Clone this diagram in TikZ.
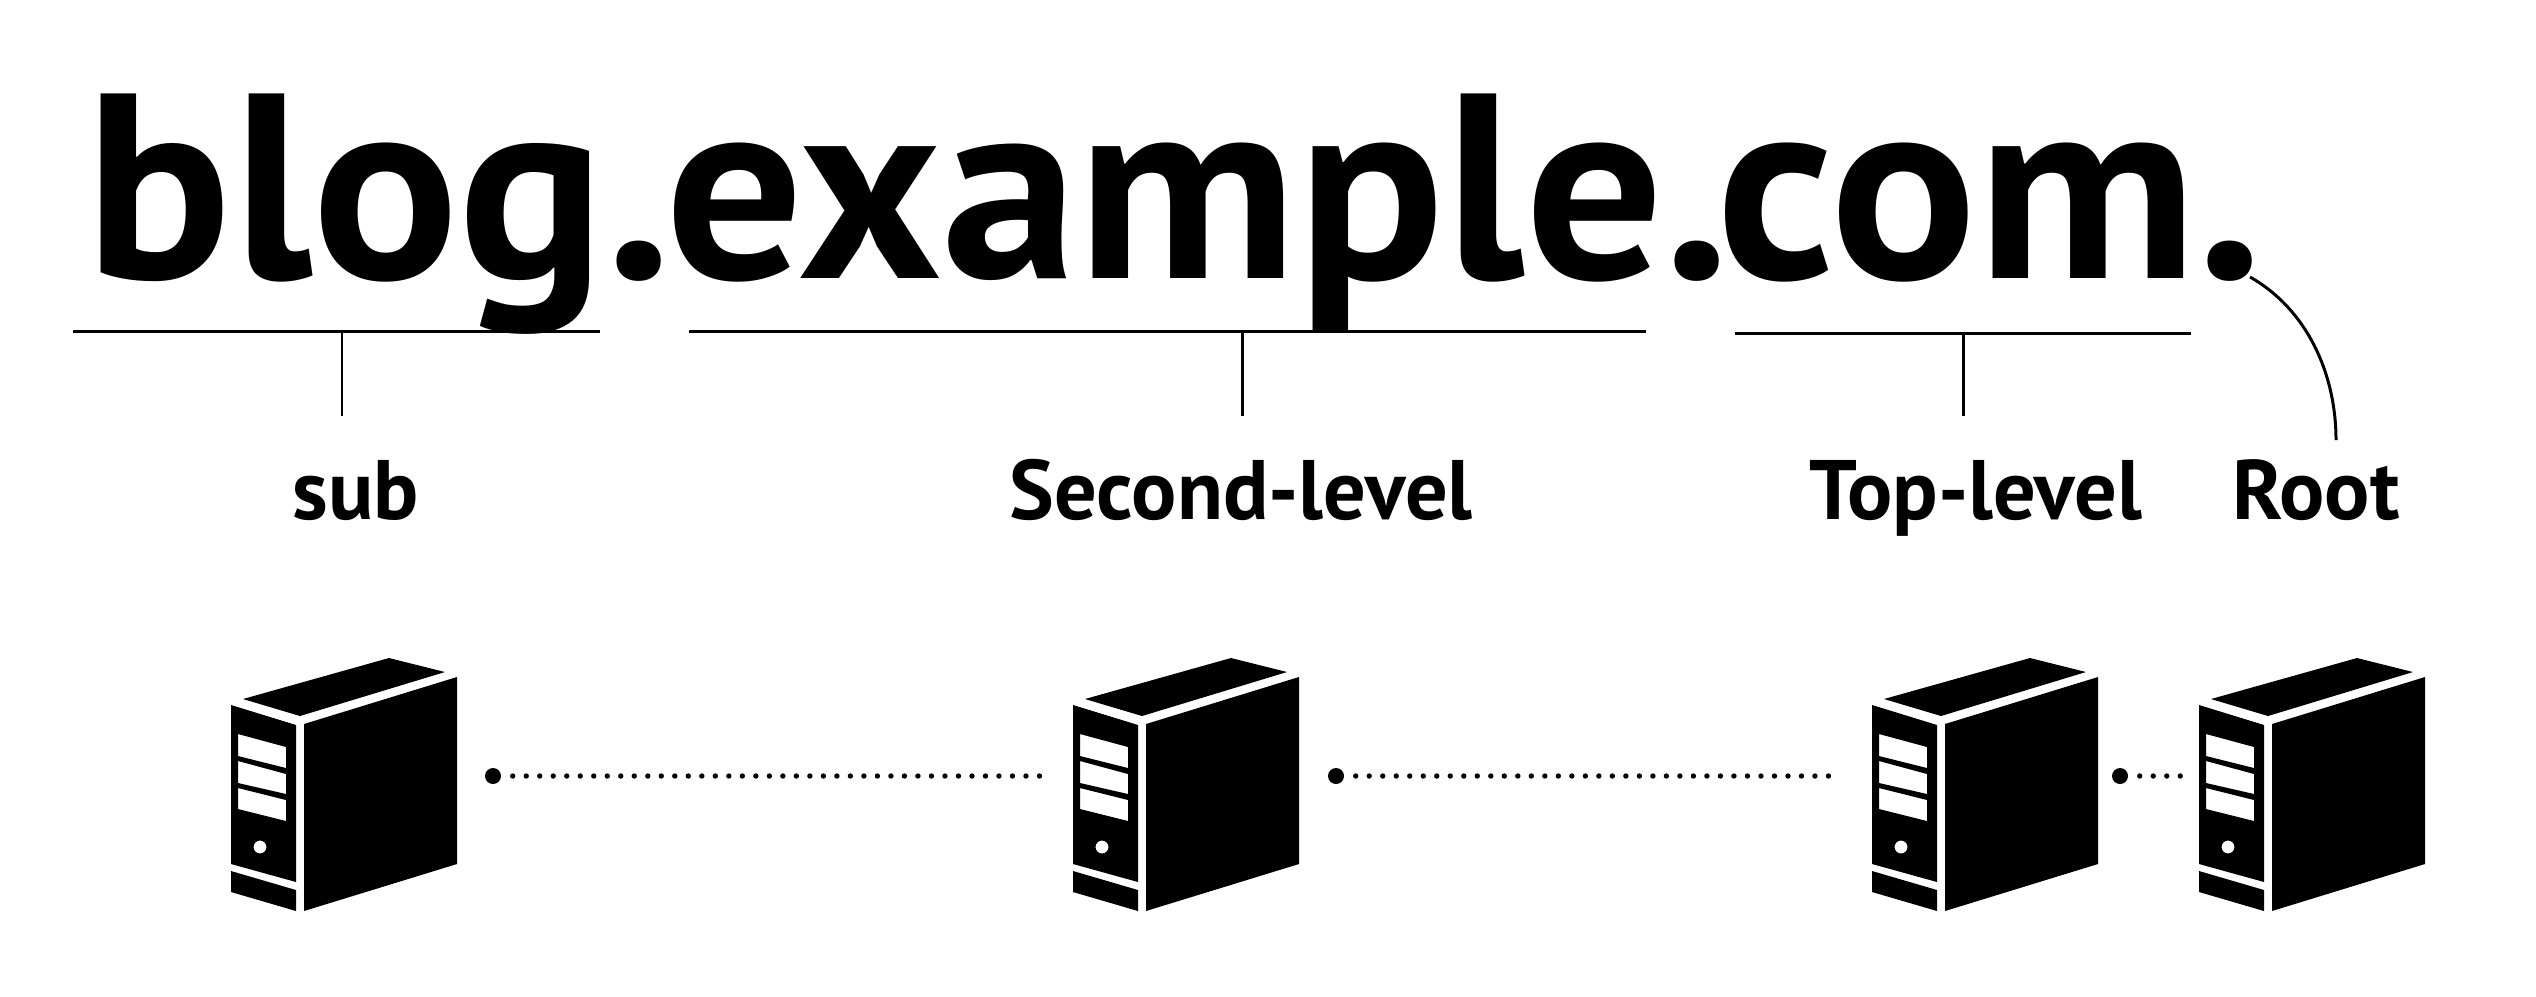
\documentclass[tikz,border=0pt]{standalone}
\usepackage{fontspec}
\setmainfont{PT Sans}
\usetikzlibrary{positioning}
\begin{document}
\begin{tikzpicture}[
      x=0.01cm, y=-0.01cm,
      word/.style={inner sep=0pt, anchor=base west, xscale=1.035, transform shape, font=\fontsize{75}{75}\selectfont\bfseries},
      level/.style={inner sep=0pt, anchor=base, font=\fontsize{24}{24}\selectfont\bfseries},
      rule/.style={line width=0.85pt, color=black},
      bigdot/.style={circle, fill=black, inner sep=0pt, minimum size=0.16cm},
      dots/.style={line width=0.054cm, line cap=round, dash pattern=on 0pt off 0.135cm},
      server/.pic={
        \fill (43,68) -- (189,27) -- (245,41) -- (100,85) -- cycle;
        \fill (104,93) -- (257,46) -- (257,233) -- (104,280) -- cycle;
        \fill[even odd rule] (31,74) -- (96,94) -- (96,251) -- (31,233) -- cycle
          (38,103) -- (86,116) -- (86,137) -- (38,125) -- cycle
          (38,130) -- (86,143) -- (86,163) -- (38,152) -- cycle
          (38,157) -- (86,169) -- (86,190) -- (38,178) -- cycle
          (60,216) circle[radius=0.065cm];
        \fill (31,240) -- (96,259) -- (96,280) -- (31,261) -- cycle;
        \coordinate (-left) at (31,146);
      }
    ]
      \useasboundingbox (0,0) rectangle (2536,996);

      % domain name
      \node[word] (blog) at (85,278) {blog.};
      \node[word] (example) at (665,278) {example.};
      \node[word] (com) at (1716,278) {com.};

      % levels
      \node[level] (sub) at (356,519) {sub};
      \node[level] (second) at (1241,519) {Second-level};
      \node[level] (top) at (1976,519) {Top-level};
      \node[level] (root) at (2316,519) {Root};

      % brackets
      \coordinate (subl) at (73,331);
      \coordinate (subr) at (600,331);
      \coordinate (subm) at (342,331);
      \coordinate (subt) at (342,416);
      \coordinate (secondl) at (689,331);
      \coordinate (secondr) at (1646,331);
      \coordinate (secondm) at (1242,331);
      \coordinate (secondt) at (1242,416);
      \coordinate (topl) at (1735,333);
      \coordinate (topr) at (2191,333);
      \coordinate (topm) at (1963,333);
      \coordinate (topt) at (1963,416);
      \coordinate (rootdot) at (2250,277);
      \coordinate (roott) at (2336,440);

      \draw[rule] (subl) -- (subr);
      \draw[rule] (subm) -- (subt);
      \draw[rule] (secondl) -- (secondr);
      \draw[rule] (secondm) -- (secondt);
      \draw[rule] (topl) -- (topr);
      \draw[rule] (topm) -- (topt);
      \draw[rule] (rootdot) .. controls (2308,310) and (2336,375) .. (roott);

      % servers
      \pic (srva) at (200,631) {server};
      \pic (srvb) at (1042,631) {server};
      \pic (srvc) at (1841,631) {server};
      \pic (srvd) at (2168,631) {server};

      \node[bigdot] (dota) at (493,776) {};
      \node[bigdot] (dotb) at (1336,776) {};
      \node[bigdot] (dotc) at (2120,776) {};

      \draw[dots, shorten <=0.11cm, shorten >=0.275cm] (dota) -- (srvb-left |- dota);
      \draw[dots, shorten <=0.11cm, shorten >=0.385cm] (dotb) -- (srvc-left |- dotb);
      \draw[dots, shorten <=0.11cm, shorten >=0.185cm] (dotc) -- (srvd-left |- dotc);
    \end{tikzpicture}
\end{document}
